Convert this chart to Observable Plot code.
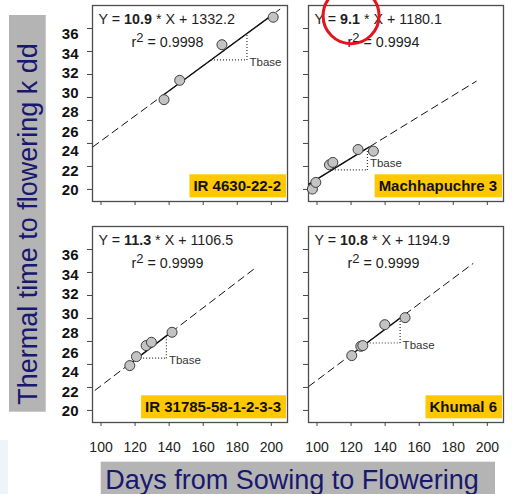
<!DOCTYPE html>
<html><head><meta charset="utf-8">
<script src="https://cdn.jsdelivr.net/npm/d3@7"></script>
<script src="https://cdn.jsdelivr.net/npm/@observablehq/plot@0.6"></script>
<style>
body{margin:0;background:#fff}
#chart{position:relative;width:512px;height:494px;overflow:hidden}
</style>
</head><body><div id="chart"></div>
<script>
// ---------- data ----------
const panelNames = ["IR 4630-22-2", "Machhapuchre 3", "IR 31785-58-1-2-3-3", "Khumal 6"];
const panelCol = ["L", "R", "L", "R"];
const panelRow = ["T", "T", "B", "B"];
const slopeText = ["10.9", "9.1", "11.3", "10.8"];
const interceptText = ["1332.2", "1180.1", "1106.5", "1194.9"];
const r2Text = ["0.9998", "0.9994", "0.9999", "0.9999"];

// fitted lines as drawn (slope, intercept in degree-days)
const fitSlope = [10.9, 9.1, 11.3, 11.08];
const fitIntercept = [1332.2, 1180.1, 1085, 1155];
const dashFrom = [95, 95, 96.3, 95];
const dashTo = [205.2, 193.7, 190, 191.7];
const solidFrom = [136, 95, 117, 121];
const solidTo = [202, 131, 142, 151.7];
const tbaseFrom = [164.6, 108.7, 121.2, 129.2];
const tbaseTo = [185.7, 129.6, 138.4, 148.8];
const tbaseLabelY = [3108, 2226, 2437, 2568];

// observations: days from sowing to flowering, thermal time (dd)
const days1 = [137.0, 146.2, 171.0, 201.1];
const tt1 = [2781, 2949, 3259, 3498];
const days2 = [97.3, 99.3, 107.3, 109.3, 124.1, 133.1];
const tt2 = [2003, 2061, 2214, 2235, 2347, 2333];
const days3 = [116.9, 120.8, 126.5, 129.6, 141.7];
const tt3 = [2390, 2468, 2564, 2593, 2680];
const days4 = [120.4, 125.7, 126.9, 139.8, 151.7];
const tt4 = [2477, 2558, 2564, 2746, 2807];

// axes
const xTickValues = [100, 120, 140, 160, 180, 200];
const yTickValues = [2000, 2200, 2400, 2600, 2800, 3000, 3200, 3400];
const yLabels = [20, 22, 24, 26, 28, 30, 32, 34, 36];
const yTitle = "Thermal time to flowering k dd";
const xTitle = "Days from Sowing to Flowering";

// highlight ring (red hand-drawn circle) in panel 2
const highlight = [{col: "R", row: "T", days: 120.0, tt: 3511}];

// ---------- build ----------
const FONT = "'Liberation Sans', Arial, Helvetica, sans-serif";
const panelTable = panelNames.map((name, i) => ({
  name, col: panelCol[i], row: panelRow[i],
  eq: `Y = ${slopeText[i]} * X + ${interceptText[i]}`,
  r2: `r2 = ${r2Text[i]}`,
  m: fitSlope[i], b: fitIntercept[i],
  dashFrom: dashFrom[i], dashTo: dashTo[i],
  solidFrom: solidFrom[i], solidTo: solidTo[i],
  tFrom: tbaseFrom[i], tTo: tbaseTo[i], tLabelY: tbaseLabelY[i]
}));
const fit = (p, x) => p.m * x + p.b;
const obsDays = [days1, days2, days3, days4];
const obsTT = [tt1, tt2, tt3, tt4];
const obs = panelNames.flatMap((name, i) =>
  obsDays[i].map((d, j) => ({col: panelCol[i], row: panelRow[i], days: d, tt: obsTT[i][j]})));

// label positions on the dd scale for the printed y labels
const yLabelPos = yLabels.map(v => 1991 + (v - 20) * 84.94);
const yLabelMap = new Map(yLabelPos.map((p, i) => [p, String(yLabels[i])]));

const plot = Plot.plot({
  width: 512, height: 494,
  marginLeft: 92, marginRight: 8.7, marginTop: 5, marginBottom: 71,
  style: {fontFamily: FONT, background: "white", color: "#222"},
  fx: {domain: ["L", "R"], axis: null, paddingInner: 0.096, paddingOuter: 0},
  fy: {domain: ["T", "B"], axis: null, paddingInner: 0.113, paddingOuter: 0},
  x: {domain: [95, 209.5]},
  y: {domain: [1895, 3600]},
  marks: [
    Plot.frame({stroke: "#4d4d4d", strokeWidth: 1.3}),
    Plot.axisY({ticks: yTickValues, tickSize: 5, tickFormat: () => "", facetAnchor: null, stroke: "#444", label: null}),
    Plot.axisX({ticks: xTickValues, tickSize: 4, tickFormat: () => "", facetAnchor: null, stroke: "#444", label: null}),
    Plot.axisY({ticks: yLabelPos, tickSize: 0, tickPadding: 14, tickFormat: d => yLabelMap.get(d),
      fontSize: 15, fontWeight: "bold", fill: "#111", label: null}),
    Plot.axisX({ticks: xTickValues, tickSize: 0, tickPadding: 19.5, fontSize: 14, fill: "#222", label: null}),
    Plot.link(panelTable, {fx: "col", fy: "row",
      x1: "dashFrom", y1: p => fit(p, p.dashFrom), x2: "dashTo", y2: p => fit(p, p.dashTo),
      stroke: "#111", strokeWidth: 1, strokeDasharray: "8,4"}),
    Plot.link(panelTable, {fx: "col", fy: "row",
      x1: "solidFrom", y1: p => fit(p, p.solidFrom), x2: "solidTo", y2: p => fit(p, p.solidTo),
      stroke: "#111", strokeWidth: 1.4}),
    Plot.link(panelTable, {fx: "col", fy: "row",
      x1: "tFrom", y1: p => fit(p, p.tFrom), x2: "tTo", y2: p => fit(p, p.tFrom),
      stroke: "#333", strokeWidth: 1.2, strokeDasharray: "1,2"}),
    Plot.link(panelTable, {fx: "col", fy: "row",
      x1: "tTo", y1: p => fit(p, p.tFrom), x2: "tTo", y2: p => fit(p, p.tTo),
      stroke: "#333", strokeWidth: 1.2, strokeDasharray: "1,2"}),
    Plot.dot(obs, {fx: "col", fy: "row", x: "days", y: "tt", r: 5,
      fill: "#c3c3c3", stroke: "#3c3c3c", strokeWidth: 1}),
    Plot.text(panelTable, {fx: "col", fy: "row", x: "tTo", y: "tLabelY", text: () => "Tbase",
      dx: 2.5, textAnchor: "start", lineAnchor: "middle", fontSize: 11.5, fill: "#333"}),
    Plot.text(panelTable, {fx: "col", fy: "row", text: "eq", frameAnchor: "top-left",
      dx: 6, dy: 14.3, textAnchor: "start", lineAnchor: "middle", fontSize: 14.3, fill: "#1e1e1e"}),
    Plot.text(panelTable, {fx: "col", fy: "row", text: "r2", frameAnchor: "top-left",
      dx: 75, dy: 36.5, textAnchor: "middle", lineAnchor: "middle", fontSize: 14.3, fill: "#1e1e1e"}),
    Plot.text(panelTable, {fx: "col", fy: "row", text: "name", frameAnchor: "bottom-right",
      dx: -6.5, dy: -15, textAnchor: "end", lineAnchor: "middle", fontSize: 15, fontWeight: "bold", fill: "#111"}),
    Plot.dot(highlight, {fx: "col", fy: "row", x: "days", y: "tt", r: 28,
      stroke: "#e4141c", strokeWidth: 3, fill: "none"})
  ]
});

document.getElementById("chart").append(plot);

// ---------- rich text & decorations ----------
const NS = "http://www.w3.org/2000/svg";
function addSpan(t, s, attrs = {}) {
  const sp = document.createElementNS(NS, "tspan");
  for (const k in attrs) sp.setAttribute(k, attrs[k]);
  sp.textContent = s;
  t.appendChild(sp);
}
plot.querySelectorAll("text").forEach(t => {
  const s = t.textContent;
  let m;
  if ((m = s.match(/^Y = (\S+) \* X \+ (\S+)$/))) {
    t.textContent = "";
    addSpan(t, "Y = ");
    addSpan(t, m[1], {"font-weight": "bold"});
    addSpan(t, " * X + " + m[2]);
  } else if ((m = s.match(/^r2 = (\S+)$/))) {
    t.textContent = "";
    addSpan(t, "r");
    addSpan(t, "2", {dy: -5, "font-size": 13});
    addSpan(t, " = " + m[1], {dy: 5});
  } else if (panelNames.includes(s)) {
    const bb = t.getBBox();
    const r = document.createElementNS(NS, "rect");
    r.setAttribute("x", bb.x - 4);
    r.setAttribute("y", bb.y - 3);
    r.setAttribute("width", bb.width + 9);
    r.setAttribute("height", bb.height + 6);
    r.setAttribute("fill", "#ffc800");
    r.setAttribute("stroke", "none");
    const tr = t.getAttribute("transform");
    if (tr) r.setAttribute("transform", tr);
    t.parentNode.insertBefore(r, t);
  }
});

const svg = d3.select(plot);
const g = svg.append("g").attr("font-family", FONT);
g.append("rect").attr("x", 0).attr("y", 440).attr("width", 8).attr("height", 54).attr("fill", "#eef4f8");
g.append("rect").attr("x", 9).attr("y", 15).attr("width", 36.7).attr("height", 396.7).attr("fill", "#b4b4b4");
g.append("text").attr("transform", "translate(37.3,224) rotate(-90)").attr("text-anchor", "middle")
  .attr("font-size", 27).attr("fill", "#18186e").text(yTitle);
g.append("rect").attr("x", 100.7).attr("y", 461.7).attr("width", 394.3).attr("height", 40).attr("fill", "#b4b4b4");
g.append("text").attr("x", 292).attr("y", 488.5).attr("text-anchor", "middle")
  .attr("font-size", 27).attr("fill", "#18186e").text(xTitle);
</script></body></html>
